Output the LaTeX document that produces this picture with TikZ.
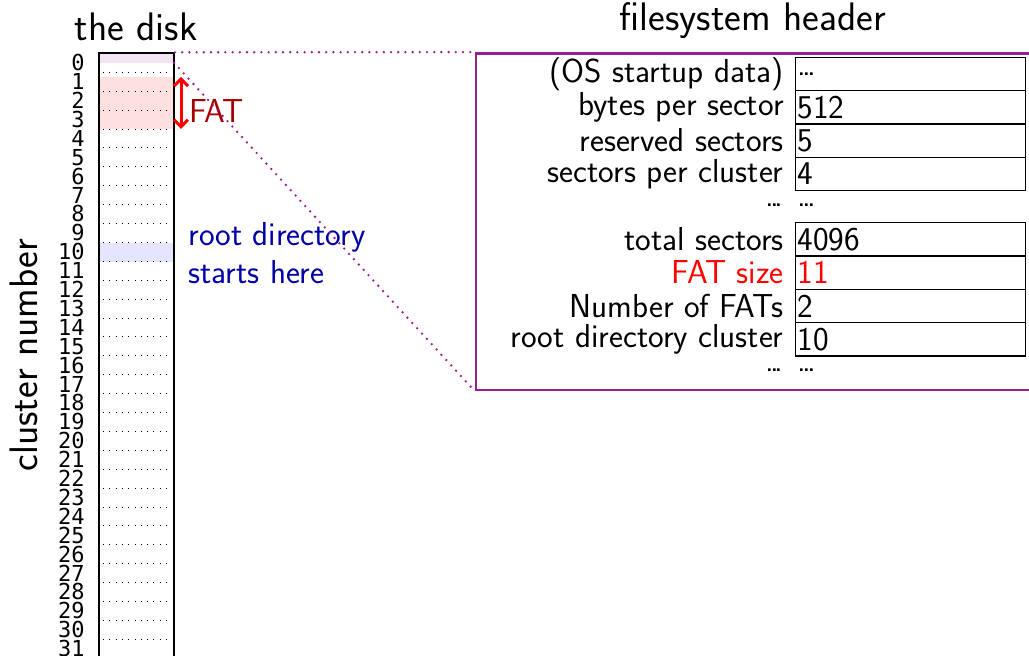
\documentclass[tikz,border=0pt]{standalone}
\usepackage{fontspec}
\usepackage{tikz}
\usetikzlibrary{arrows.meta}
\newfontfamily\monofam{DejaVu Sans Mono}
\definecolor{hdrpurple}{RGB}{150,30,150}
\definecolor{fatred}{RGB}{165,0,0}
\definecolor{rootblue}{RGB}{0,0,165}
\newcommand{\tdots}{.\kern-2pt.\kern-2pt.}

\begin{document}
\begin{tikzpicture}[x=0.5pt, y=-0.5pt,
    heading/.style={font=\sffamily\fontsize{19.9}{24}\selectfont, inner sep=0pt},
    fieldname/.style={font=\sffamily\fontsize{16.6}{19}\selectfont, anchor=east, inner sep=0pt},
    valbox/.style={draw, line width=0.7pt, font=\sffamily\fontsize{16.6}{19}\selectfont, anchor=west,
      text width=113pt, align=left, inner xsep=1pt, inner ysep=0pt, minimum height=16.65pt},
    clusterno/.style={font=\monofam\fontsize{11}{11}\selectfont, anchor=east, inner sep=0pt},
    sepline/.style={line width=0.4pt, dash pattern=on 0.4pt off 2.75pt},
    zoomline/.style={hdrpurple, line width=1.3pt, line cap=round, dash pattern=on 0pt off 3.6pt}]
  \useasboundingbox (0,0) rectangle (1029,655);
  \node[heading, anchor=base] (t1) at (136,40) {the disk};
  \node[heading, anchor=base] (t2) at (753,30) {filesystem header};
  \node[heading, anchor=base, rotate=90] (t3) at (37,355) {cluster number};
  % header, FAT and root directory on the disk
  \fill[hdrpurple!12] (99,53.3) rectangle (174,62.75);
  \fill[red!12] (99,76.9) rectangle (174,128.9);
  \fill[blue!10] (99,243.3) rectangle (174,262.2);
  \foreach \i in {0,...,31} {
    \node[clusterno] (n\i) at (85,62.75+18.9*\i) {\i};
    \draw[sepline] (103,72.2+18.9*\i) -- (171,72.2+18.9*\i);
  }
  \node[draw, line width=1pt, minimum width=37.5pt, minimum height=313.35pt, inner sep=0pt] (disk) at (136.5,366.65) {};
  \coordinate (hdrend) at (174,62.75);
  \coordinate (fattop) at (181,76.9);
  \coordinate (fatbot) at (181,128.9);
  \draw[red, line width=1.5pt, {Straight Barb[length=3.5pt,width=7pt]}-{Straight Barb[length=3.5pt,width=7pt]}]
    (fattop) -- node[anchor=west, inner sep=0pt, xshift=3.5pt, yshift=-3.8pt, text=fatred,
      font=\sffamily\fontsize{16.6}{19}\selectfont] {FAT} (fatbot);
  \node[fieldname, anchor=north west, align=left, text=rootblue] (root) at (188,222) {root directory\\starts here};
  % the header fields
  \node[draw=hdrpurple, line width=1.2pt, minimum width=282pt, minimum height=168.35pt, inner sep=0pt] (fs) at (758,221.65) {};
  \draw[zoomline] (disk.north east) -- (fs.north west);
  \draw[zoomline] (hdrend) -- (fs.south west);
  \node[fieldname] (l0) at (784,74) {(OS startup data)};
  \node[valbox] (v0) at (795,74) {\tdots};
  \node[fieldname] (l1) at (784,107.3) {bytes per sector};
  \node[valbox] (v1) at (795,107.3) {512};
  \node[fieldname] (l2) at (784,140.6) {reserved sectors};
  \node[valbox] (v2) at (795,140.6) {5};
  \node[fieldname] (l3) at (784,174) {sectors per cluster};
  \node[valbox] (v3) at (795,174) {4};
  \node[fieldname] (l4) at (784,205) {\tdots};
  \node[valbox, draw=none] (v4) at (795,205) {\tdots};
  \node[fieldname] (l5) at (784,239.3) {total sectors};
  \node[valbox] (v5) at (795,239.3) {4096};
  \node[fieldname, text=red] (l6) at (784,272.6) {FAT size};
  \node[valbox, text=red] (v6) at (795,272.6) {11};
  \node[fieldname] (l7) at (784,305.9) {Number of FATs};
  \node[valbox] (v7) at (795,305.9) {2};
  \node[fieldname] (l8) at (784,339.2) {root directory cluster};
  \node[valbox] (v8) at (795,339.2) {10};
  \node[fieldname] (l9) at (784,370) {\tdots};
  \node[valbox, draw=none] (v9) at (795,370) {\tdots};
\end{tikzpicture}
\end{document}
